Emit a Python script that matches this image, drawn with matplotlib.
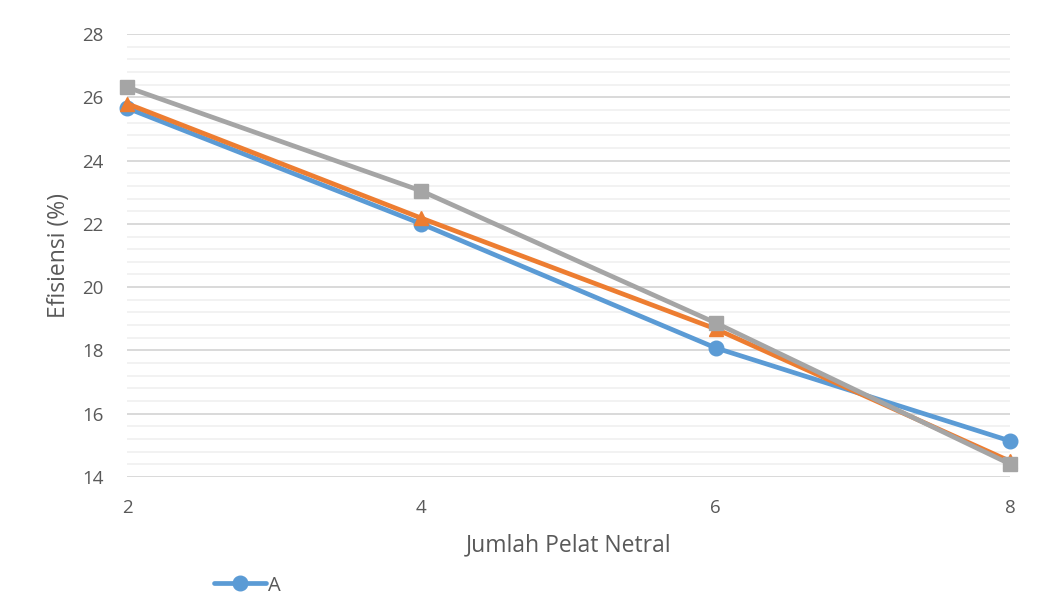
import matplotlib
matplotlib.use("Agg")
import matplotlib.pyplot as plt
from matplotlib.ticker import MultipleLocator

# efficiency vs number of neutral plates
plates = [2, 4, 6, 8]
eff_a = [25.66, 22.00, 18.08, 15.14]
eff_b = [25.80, 22.18, 18.68, 14.50]
eff_c = [26.32, 23.04, 18.87, 14.41]

plt.rcParams["font.family"] = ["Open Sans", "DejaVu Sans"]
text_color = "#595959"

fig = plt.figure(figsize=(10.56, 6.03), dpi=100)
ax = fig.add_axes([0.1203, 0.2090, 0.8361, 0.7346])

la, = ax.plot(plates, eff_a, color="#5B9BD5", lw=3.4, marker="o", ms=10.5,
              label="A", zorder=3, solid_capstyle="round", clip_on=False)
ax.plot(plates, eff_b, color="#ED7D31", lw=3.4, marker="^", ms=10.5,
        label="B", zorder=4, solid_capstyle="round", clip_on=False)
ax.plot(plates, eff_c, color="#A5A5A5", lw=3.4, marker="s", ms=9.5,
        label="C", zorder=5, solid_capstyle="round", clip_on=False)

ax.set_xlim(2, 8)
ax.set_ylim(14, 28)
ax.xaxis.set_major_locator(MultipleLocator(2))
ax.yaxis.set_major_locator(MultipleLocator(2))
ax.yaxis.set_minor_locator(MultipleLocator(0.4))

ax.grid(axis="y", which="major", color="#D9D9D9", lw=1.4, zorder=1)
ax.grid(axis="y", which="minor", color="#F2F2F2", lw=1.4, zorder=0)
ax.set_axisbelow(True)
for s in ax.spines.values():
    s.set_visible(False)
ax.tick_params(axis="both", which="both", length=0, labelsize=13.5,
               labelcolor=text_color)
ax.tick_params(axis="x", pad=16)
ax.tick_params(axis="y", pad=17)

ax.set_xlabel("Jumlah Pelat Netral", fontsize=16.5, color=text_color, labelpad=12)
ax.set_ylabel("Efisiensi (%)", fontsize=16.5, color=text_color, labelpad=8)

# only the first series entry fits in the legend strip
fig.legend(handles=[la], loc="center left", bbox_to_anchor=(0.193, 0.029),
           frameon=False, fontsize=14.5, labelcolor=text_color,
           handlelength=2.6, handletextpad=0.1, borderpad=0)

fig.savefig("out.png", dpi=100)
